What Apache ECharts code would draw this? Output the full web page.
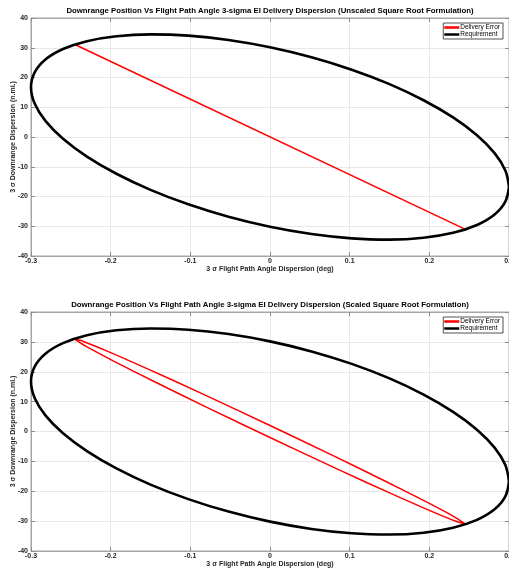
<!DOCTYPE html>
<html><head><meta charset="utf-8">
<script src="https://cdn.jsdelivr.net/npm/echarts@6/dist/echarts.min.js"></script>
<style>html,body{margin:0;padding:0;background:#fff}#c{width:509px;height:571px}</style>
</head><body><div id="c"></div>
<script>
// ---- data ----
var titles = [
  'Downrange Position Vs Flight Path Angle 3-sigma EI Delivery Dispersion (Unscaled Square Root Formulation)',
  'Downrange Position Vs Flight Path Angle 3-sigma EI Delivery Dispersion (Scaled Square Root Formulation)'
];
var xLabel = '3 \u03c3 Flight Path Angle Dispersion (deg)';
var yLabel = '3 \u03c3 Downrange Dispersion (n.mi.)';
var xTicks = [-0.3, -0.2, -0.1, 0, 0.1, 0.2, 0.3];
var yTicks = [-40, -30, -20, -10, 0, 10, 20, 30, 40];
var legendNames = ['Delivery Error', 'Requirement'];
// requirement ellipse (x deg, y n.mi.)
var requirementX = [0.3, 0.2954, 0.2819, 0.2598, 0.2298, 0.1928, 0.15, 0.1026, 0.0521, 0,
  -0.0521, -0.1026, -0.15, -0.1928, -0.2298, -0.2598, -0.2819, -0.2954, -0.3,
  -0.2954, -0.2819, -0.2598, -0.2298, -0.1928, -0.15, -0.1026, -0.0521, 0,
  0.0521, 0.1026, 0.15, 0.1928, 0.2298, 0.2598, 0.2819, 0.2954, 0.3];
var requirementY = [-16.73, -21.71, -26.04, -29.57, -32.21, -33.87, -34.49, -34.08, -32.62, -30.17,
  -26.81, -22.63, -17.77, -12.36, -6.58, -0.60, 5.40, 11.23, 16.73,
  21.71, 26.04, 29.57, 32.21, 33.87, 34.49, 34.08, 32.62, 30.17,
  26.81, 22.63, 17.77, 12.36, 6.58, 0.60, -5.40, -11.23, -16.73];
// delivery error, unscaled (line)
var unscaledX = [-0.245, 0.244];
var unscaledY = [31.1, -30.9];
// delivery error, scaled (thin loop)
var scaledX = [-0.245, -0.2341, -0.2022, -0.1523, -0.0888, 0, 0.0792, 0.1442, 0.1963, 0.2308, 0.245,
  0.2341, 0.2022, 0.1523, 0.0888, 0, -0.0792, -0.1442, -0.1963, -0.2308, -0.245];
var scaledY = [30.93, 30.15, 26.67, 20.81, 13.09, 2.01, -8.09, -16.57, -23.58, -28.47, -30.93,
  -30.15, -26.67, -20.81, -13.09, -2.01, 8.09, 16.57, 23.58, 28.47, 30.93];

function pairs(xs, ys){ return xs.map(function(x,i){ return [x, ys[i]]; }); }

var FONT = '"Liberation Sans", Helvetica, Arial, sans-serif';
var gridDefs = [{top: 18, height: 238}, {top: 312, height: 239}];
var grids = [], xAxes = [], yAxes = [], series = [], legends = [];
gridDefs.forEach(function(g, k){
  grids.push({left: 31, width: 478, top: g.top, height: g.height, show: true, containLabel: false,
    outerBoundsMode: 'none',
    borderColor: '#a6a6a6', borderWidth: 1, backgroundColor: '#fff'});
  var tick = {show: true, inside: true, length: 4, lineStyle: {color: '#8c8c8c'}};
  var line = {show: true, onZero: false, lineStyle: {color: '#a6a6a6'}};
  xAxes.push({type: 'value', gridIndex: k, min: xTicks[0], max: xTicks[xTicks.length-1], interval: 0.1,
    position: 'bottom', axisLine: line, axisTick: tick,
    splitLine: {show: true, lineStyle: {color: '#e8e8e8', width: 1}},
    axisLabel: {color: '#262626', fontSize: 7, fontWeight: 'bold', fontFamily: FONT, margin: 2,
      formatter: function(v){ return String(Math.round(v*10)/10); }},
    name: xLabel, nameLocation: 'middle', nameGap: 10, nameMoveOverlap: false,
    nameTextStyle: {color: '#262626', fontSize: 7, fontWeight: 'bold', fontFamily: FONT}});
  xAxes.push({type: 'value', gridIndex: k, min: xTicks[0], max: xTicks[xTicks.length-1], interval: 0.1,
    position: 'top', axisLine: line, axisTick: tick,
    splitLine: {show: false}, axisLabel: {show: false},
    name: titles[k], nameLocation: 'middle', nameGap: 3, nameMoveOverlap: false,
    nameTextStyle: {color: '#000', fontSize: 7.8, fontWeight: 'bold', fontFamily: FONT}});
  yAxes.push({type: 'value', gridIndex: k, min: yTicks[0], max: yTicks[yTicks.length-1], interval: 10,
    position: 'left', axisLine: line, axisTick: tick,
    splitLine: {show: true, lineStyle: {color: '#e8e8e8', width: 1}},
    axisLabel: {color: '#262626', fontSize: 7, fontWeight: 'bold', fontFamily: FONT, margin: 3},
    name: yLabel, nameLocation: 'middle', nameGap: 14, nameMoveOverlap: false,
    nameTextStyle: {color: '#262626', fontSize: 7, fontWeight: 'bold', fontFamily: FONT}});
  yAxes.push({type: 'value', gridIndex: k, min: yTicks[0], max: yTicks[yTicks.length-1], interval: 10,
    position: 'right', axisLine: line, axisTick: tick,
    splitLine: {show: false}, axisLabel: {show: false}});
  var err = k === 0 ? pairs(unscaledX, unscaledY) : pairs(scaledX, scaledY);
  series.push({name: legendNames[0], type: 'line', xAxisIndex: 2*k, yAxisIndex: 2*k, data: err,
    smooth: k === 0 ? false : 0.3,
    symbol: 'none', lineStyle: {color: '#ff0000', width: 1.5}, itemStyle: {color: '#ff0000'}, z: 3, animation: false});
  series.push({name: legendNames[1], type: 'line', xAxisIndex: 2*k, yAxisIndex: 2*k,
    data: pairs(requirementX, requirementY), smooth: 0.35,
    symbol: 'none', lineStyle: {color: '#000', width: 2.6}, itemStyle: {color: '#000'}, z: 4, animation: false});
  legends.push({data: [{name: legendNames[0], icon: 'rect', itemStyle: {color: '#ff0000'}},
                       {name: legendNames[1], icon: 'rect', itemStyle: {color: '#000'}}],
    orient: 'vertical', right: 6, top: g.top + 5,
    itemWidth: 15, itemHeight: 2.5, itemGap: 0, padding: [1, 3, 1, 1],
    borderColor: '#262626', borderWidth: 0.8, backgroundColor: '#fff', selectedMode: false,
    textStyle: {fontSize: 6.5, color: '#000', fontFamily: FONT, padding: [0, 0, 0, -4]}});
});

var chart = echarts.init(document.getElementById('c'), null, {renderer: 'canvas'});
chart.setOption({animation: false, grid: grids, xAxis: xAxes, yAxis: yAxes, series: series, legend: legends});
</script></body></html>
